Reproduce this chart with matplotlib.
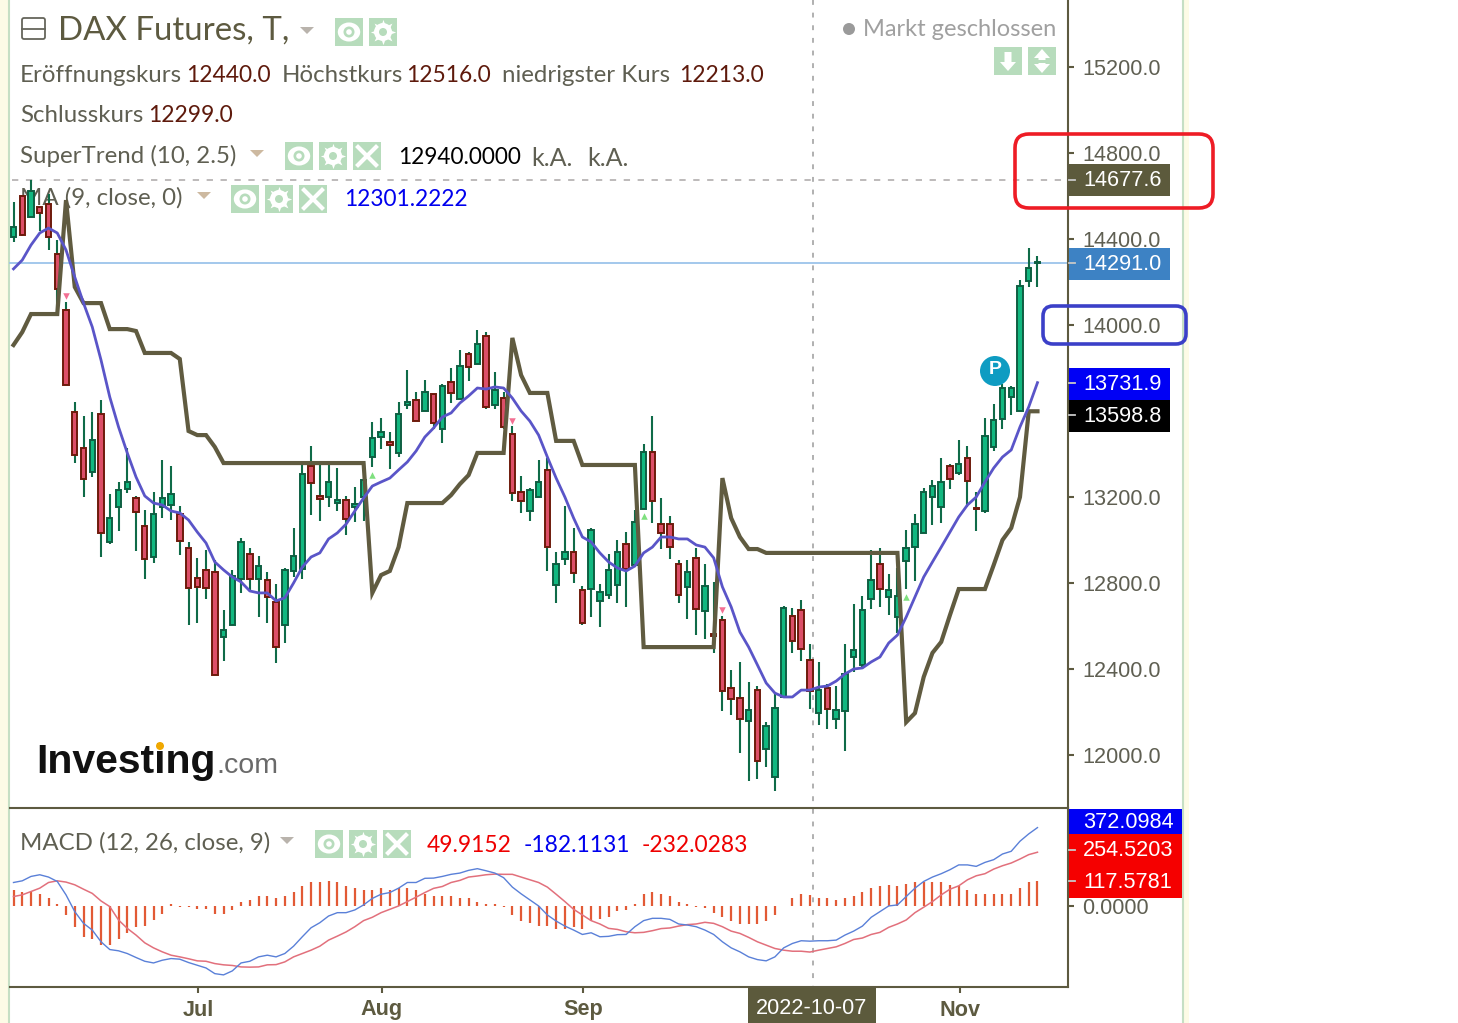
import matplotlib
matplotlib.use("Agg")
import matplotlib.pyplot as plt
from matplotlib.patches import Rectangle, FancyBboxPatch, Circle, Ellipse, Polygon

# ---------- data ----------
opens = [14409,14600,14502,14549,14563,14330,14070,13595,13428,13316,
 13586,12991,13154,13237,13195,13065,12921,13154,13163,13121,
 12963,12823,12861,12851,12549,12605,12819,12935,12819,12814,
 12712,12605,12856,12865,13344,13205,13200,13172,13186,13154,
 13200,13386,13479,13456,13405,13628,13651,13600,13679,13516,
 13735,13656,13865,13819,13949,13628,13660,13493,13223,13135,
 13200,13326,12791,12912,12944,12768,12772,12717,12744,12791,
 12981,12884,13144,13409,13074,13074,12888,12782,12917,12670,
 12563,12628,12312,12265,12158,12302,12028,11898,12270,12647,
 12675,12440,12195,12312,12167,12205,12456,12419,12726,12888,
 12735,12642,12902,12967,13033,13200,13154,13344,13312,13381,
 13149,13135,13433,13563,13665,13600,14205,14288]
highs = [14572,14600,14674,14549,14609,14395,14107,13642,13577,13595,
 13651,13214,13270,13428,13205,13140,13223,13372,13344,13158,
 12991,12917,12954,12907,12675,12861,13009,12963,12926,12851,
 12796,12870,13056,13349,13437,13363,13363,13335,13205,13247,
 13358,13549,13567,13502,13642,13791,13688,13744,13679,13726,
 13800,13884,13874,13977,13967,13781,13688,13530,13298,13242,
 13372,13381,12944,13158,13056,12786,13056,12796,12935,13000,
 13037,13140,13447,13577,13195,13112,12907,12907,12963,12888,
 12805,12647,12396,12433,12340,12321,12153,12293,12693,12684,
 12721,12516,12433,12330,12321,12516,12702,12740,12954,12963,
 12842,12870,13047,13121,13242,13279,13381,13353,13465,13437,
 13223,13567,13633,13726,13716,14209,14358,14321]
lows = [14386,14415,14502,14437,14349,14056,13721,13358,13200,13293,
 12921,12982,13042,13219,12949,12819,12893,13102,13093,12930,
 12605,12614,12726,12372,12437,12605,12754,12763,12642,12614,
 12428,12521,12828,12819,13116,13088,13154,13135,13023,13084,
 13088,13340,13423,13330,13386,13609,13553,13600,13516,13451,
 13637,13656,13740,13819,13609,13609,13516,13181,13126,13088,
 13200,12856,12707,12884,12800,12605,12642,12595,12726,12707,
 12689,12884,13144,13079,12958,12912,12707,12633,12558,12540,
 12475,12205,12186,12009,11879,11888,11944,11833,12270,12475,
 12437,12213,12140,12121,12121,12019,12386,12400,12679,12689,
 12651,12567,12772,12809,13033,13070,13079,13237,13302,13154,
 13042,13126,13414,13516,13581,13600,14177,14177]
closes = [14456,14419,14623,14521,14409,14167,13721,13395,13284,13465,
 13033,13102,13233,13270,13130,12912,13121,13195,13214,12995,
 12777,12782,12777,12372,12582,12833,12991,12819,12879,12735,
 12502,12861,12926,13307,13265,13191,13270,13186,13098,13168,
 13279,13474,13502,13442,13586,13642,13553,13688,13544,13716,
 13684,13809,13805,13912,13619,13698,13526,13219,13181,13233,
 13270,12967,12888,12944,12847,12614,13047,12758,12861,12944,
 12865,13084,13409,13181,13033,12967,12744,12851,12679,12786,
 12554,12299,12261,12167,12209,11972,12135,12219,12684,12530,
 12493,12299,12302,12214,12209,12377,12489,12675,12814,12772,
 12768,12740,12963,13074,13223,13251,13270,13284,13353,13274,
 13144,13484,13558,13707,13707,14181,14265,14291]
ma9 = [14261,14302,14372,14428,14451,14428,14349,14223,14102,13991,
 13837,13665,13526,13405,13293,13205,13172,13163,13135,13126,
 13093,13037,12986,12898,12861,12828,12805,12763,12754,12754,
 12717,12731,12800,12874,12921,12940,13005,13033,13074,13135,
 13195,13251,13270,13288,13326,13363,13414,13479,13521,13572,
 13591,13637,13670,13707,13702,13712,13707,13660,13600,13553,
 13488,13386,13288,13200,13102,13014,12991,12940,12898,12870,
 12856,12879,12940,12967,13014,13014,13005,13005,12977,12967,
 12917,12782,12689,12572,12502,12419,12335,12288,12270,12270,
 12302,12302,12316,12321,12344,12377,12400,12405,12433,12456,
 12521,12558,12642,12735,12828,12898,12967,13037,13107,13163,
 13200,13270,13335,13386,13419,13526,13619,13731.9]
supertrend = [13907,13967,14051,14051,14051,14051,14581,14177,14102,14102,
 14102,13981,13981,13981,13972,13870,13870,13870,13870,13842,
 13507,13488,13488,13433,13358,13358,13358,13358,13358,13358,
 13358,13358,13358,13358,13358,13358,13358,13358,13358,13358,
 13358,12754,12837,12856,12967,13172,13172,13172,13172,13172,
 13209,13260,13302,13405,13405,13405,13405,13940,13767,13684,
 13684,13684,13461,13461,13461,13349,13349,13349,13349,13349,
 13349,13349,12502,12502,12502,12502,12502,12502,12502,12502,
 12502,13288,13102,13014,12958,12958,12940,12940,12940,12940,
 12940,12940,12940,12940,12940,12940,12940,12940,12940,12940,
 12940,12940,12153,12195,12363,12475,12526,12651,12772,12772,
 12772,12772,12884,13000,13056,13200,13598.8,13598.8]
macd = [110,118,139,147,136,115,51,-29,-85,-117,
 -173,-210,-216,-229,-248,-266,-274,-261,-253,-256,
 -272,-285,-298,-325,-331,-312,-274,-266,-245,-237,
 -245,-229,-194,-149,-106,-82,-50,-34,-34,-21,
 3,34,54,62,83,110,110,130,131,139,
 149,155,168,176,166,155,133,88,56,27,
 -2,-45,-74,-98,-117,-138,-130,-149,-147,-139,
 -138,-101,-72,-61,-61,-66,-88,-93,-101,-117,
 -138,-173,-202,-221,-245,-258,-264,-245,-202,-181,
 -168,-170,-168,-168,-165,-141,-122,-98,-56,-29,
 -2,3,43,83,115,136,152,171,194,194,
 187,206,219,246,259,307,342,372.1]
signal = [43,51,67,83,110,118,112,99,78,58,
 22,-5,-69,-109,-141,-178,-202,-221,-237,-245,
 -254,-264,-266,-277,-283,-286,-293,-294,-293,-283,
 -282,-269,-245,-229,-213,-194,-165,-146,-126,-101,
 -72,-56,-34,-18,-2,19,40,62,82,91,
 110,120,136,141,147,150,149,149,136,123,
 110,88,54,19,-18,-45,-72,-88,-109,-114,
 -125,-130,-128,-120,-110,-107,-98,-91,-88,-80,
 -85,-101,-122,-133,-152,-173,-189,-205,-213,-218,
 -218,-222,-213,-205,-197,-181,-162,-155,-138,-128,
 -104,-88,-69,-34,-8,19,51,78,94,123,
 142,152,174,190,203,222,243,254.5]
hist = [74,66,66,55,36,6,-47,-103,-150,-158,
 -188,-188,-158,-133,-103,-96,-67,-38,5,-5,
 -5,-16,-16,-38,-38,-19,19,28,47,47,
 38,47,64,91,110,110,119,110,91,82,
 74,74,82,74,82,82,74,55,47,47,
 47,36,36,19,6,5,-5,-47,-74,-85,
 -99,-100,-111,-111,-102,-111,-75,-64,-55,-28,
 -20,6,55,63,55,45,17,5,-5,-12,
 -37,-56,-75,-86,-86,-86,-75,-47,0,36,
 53,50,36,36,26,36,45,63,82,91,
 100,92,102,110,110,110,110,100,91,74,
 55,55,55,55,55,82,110,117.6]
sell_idx = [6, 57, 81]
sell_price = [14135, 13553, 12675]
buy_idx = [41, 72, 102]
buy_price = [13302, 13112, 12735]
price_ticks = [12000,12400,12800,13200,13600,14000,14400,14800,15200]
month_pos = [21.1, 42.1, 65.1, 108.2]
month_labels = ["Jul", "Aug", "Sep", "Nov"]

# ---------- layout ----------
W, H = 1458, 1023
X0, DX = 13.5, 8.752
OLIVE = "#5d5a40"
GRAY = "#5f5f52"
DRED = "#5e1a0c"
UI = "Lato"
NUM = "Liberation Sans"

fig = plt.figure(figsize=(W/100, H/100), dpi=100, facecolor="white")

def axpos(l, t, r, b):
    return [l/W, 1-b/H, (r-l)/W, (b-t)/H]

def overlay(z):
    a = fig.add_axes([0, 0, 1, 1], zorder=z)
    a.set_xlim(0, W); a.set_ylim(H, 0); a.axis("off")
    a.patch.set_alpha(0)
    return a

back = overlay(0)
top = overlay(5)

ax = fig.add_axes(axpos(10, 0, 1068, 808), zorder=2)
ax2 = fig.add_axes(axpos(10, 808, 1068, 987), zorder=2, sharex=ax)
for a in (ax, ax2):
    a.patch.set_alpha(0)
    for s in ("left", "top"):
        a.spines[s].set_visible(False)
    for s in ("right", "bottom"):
        a.spines[s].set_color(OLIVE); a.spines[s].set_linewidth(1.5)
    a.yaxis.tick_right()
    a.tick_params(axis="y", length=4.5, width=1.5, color=OLIVE, pad=6,
                  labelsize=15.6, labelcolor=GRAY)

ax.set_xlim((10-X0)/DX, (1068-X0)/DX)
ax.set_ylim(15200-(808-67)*4.651, 15200+67*4.651)
ax2.set_ylim(-81*4.8, 97*4.8)

idx = list(range(len(opens)))

# candles
ax.vlines(idx, lows, highs, color="#0f6b48", lw=1.5, zorder=3)
for i in idx:
    o, c = opens[i], closes[i]
    up = c >= o
    ax.bar(i, max(abs(c-o), 1.0), bottom=min(o, c), width=0.62,
           facecolor="#12b880" if up else "#dc4f68",
           edgecolor="#0e5f42" if up else "#6e1a0b", linewidth=1.4, zorder=4)

ax.plot(idx, supertrend, color="#605b40", lw=3.0, zorder=5, solid_joinstyle="miter")
ax.plot(idx, ma9, color="#5a55c8", lw=2.0, zorder=6)
ax.scatter(sell_idx, sell_price, marker="v", s=22, color="#f36f93", zorder=6, linewidths=0)
ax.scatter(buy_idx, buy_price, marker="^", s=22, color="#7fe07f", zorder=6, linewidths=0)

ax.set_yticks(price_ticks)
# the 13600.0 label sits under the black price tag in the reference, so it stays empty
ax.set_yticklabels(["" if v == 13600 else f"{v:.1f}" for v in price_ticks], fontfamily=NUM)
ax.tick_params(axis="x", length=0, labelbottom=False)

# MACD
ax2.vlines(idx, 0, hist, color="#e25a35", lw=1.6, zorder=3)
ax2.plot(idx, signal, color="#e2707c", lw=1.1, zorder=4)
ax2.plot(idx, macd, color="#5a80d8", lw=1.0, zorder=5)
ax2.set_yticks([0, 117.58, 254.52, 372.1])
ax2.set_yticklabels(["0.0000", "", "", ""], fontfamily=NUM)
ax2.set_xticks(month_pos)
ax2.set_xticklabels(month_labels, fontfamily=NUM, fontweight="bold", fontsize=15.6, color=OLIVE)
ax2.tick_params(axis="x", length=4.5, width=1.5, color=OLIVE, pad=4.5)

# ---------- background decoration and text (behind the candles) ----------
back.add_patch(Rectangle((0, 0), 8, H, color="#fdfbe6", lw=0))
back.plot([9, 9], [0, H], color="#c6dfc4", lw=1.5)
back.add_patch(Rectangle((1184, 0), 5, H, color="#fdfbe6", lw=0))
back.plot([1183, 1183], [0, H], color="#c6dfc4", lw=1.5)
back.plot([813, 813], [0, 987], color="#b0b0b0", lw=1.4, dashes=(2.5, 4))
back.plot([12, 1066], [180, 180], color="#b8b4b4", lw=1.3, dashes=(3.5, 4.2))
back.plot([10, 1068], [263, 263], color="#9cc4ea", lw=1.3)

def T(a, x, y, s, color=GRAY, size=17.3, fam=UI, **kw):
    a.text(x, y, s, color=color, fontsize=size, family=fam, va="center", ha=kw.pop("ha", "left"), **kw)

def icon_box(a, x, y, w=28, h=28):
    a.add_patch(Rectangle((x, y), w, h, color="#b7dcbc", lw=0))

def eye(a, x, y, w=28, h=28):
    icon_box(a, x, y, w, h)
    cx, cy = x+w/2, y+h/2
    a.add_patch(Ellipse((cx, cy), w*0.8, h*0.68, color="white", lw=0))
    a.add_patch(Circle((cx, cy), 5.5, color="#b7dcbc", lw=0))
    a.add_patch(Circle((cx, cy), 2.8, color="white", lw=0))

def gear(a, x, y, w=28, h=28):
    icon_box(a, x, y, w, h)
    cx, cy = x+w/2, y+h/2
    a.add_patch(Circle((cx, cy), 9, color="white", lw=0))
    a.scatter([cx], [cy], marker=(8, 1, 0), s=330, color="white", linewidths=0, zorder=3)
    a.add_patch(Circle((cx, cy), 4, color="#b7dcbc", lw=0, zorder=4))

def cross(a, x, y, w=28, h=28):
    icon_box(a, x, y, w, h)
    a.plot([x+5, x+w-5], [y+5, y+h-5], color="white", lw=3)
    a.plot([x+5, x+w-5], [y+h-5, y+5], color="white", lw=3)

def tri(a, x, y, color="#b9b3ac"):
    a.add_patch(Polygon([(x-7, y-3), (x+7, y-3), (x, y+4)], color=color, lw=0))

def arrow_shape(a, cx, y_tip, y_tail):
    d = 1 if y_tail > y_tip else -1
    a.add_patch(Polygon([(cx, y_tip), (cx+8, y_tip+d*9), (cx+3.5, y_tip+d*9), (cx+3.5, y_tail),
                         (cx-3.5, y_tail), (cx-3.5, y_tip+d*9), (cx-8, y_tip+d*9)],
                        color="white", lw=0))

# header row
back.add_patch(FancyBboxPatch((22, 18), 23, 21, boxstyle="round,pad=0,rounding_size=2",
                              fc="none", ec="#66665c", lw=1.3))
back.plot([22, 45], [29, 29], color="#66665c", lw=1.3)
T(back, 58, 31, "DAX Futures, T,", OLIVE, 23.8)
tri(back, 307, 30)
eye(back, 335, 18); gear(back, 369, 18)
back.add_patch(Circle((849, 29), 6, color="#9a9a9a", lw=0))
T(back, 863, 29, "Markt geschlossen", "#a0a0a0", 17)
icon_box(back, 994, 47); icon_box(back, 1028, 47)
arrow_shape(back, 1008, 71, 52)
arrow_shape(back, 1042, 49, 60)
arrow_shape(back, 1042, 73, 63)

for x, s, c, sz in [(20, "Eröffnungskurs", GRAY, 17.3), (186, "12440.0", DRED, 16.4),
                    (282, "Höchstkurs", GRAY, 17.3), (406, "12516.0", DRED, 16.4),
                    (502, "niedrigster Kurs", GRAY, 17.3), (679, "12213.0", DRED, 16.4)]:
    T(back, x, 75, s, c, sz)
T(back, 20, 116, "Schlusskurs", GRAY); T(back, 148, 116, "12299.0", DRED, 16.4)
T(back, 20, 156, "SuperTrend (10, 2.5)", GRAY)
tri(back, 257, 153, "#cdb9a0")
eye(back, 285, 142); gear(back, 319, 142); cross(back, 353, 142)
T(back, 398, 158, "12940.0000", "black", 16.3)
T(back, 531, 158, "k.A.", GRAY, 18); T(back, 587, 158, "k.A.", GRAY, 18)
T(back, 20, 198, "MA (9, close, 0)", GRAY)
tri(back, 204, 195, "#cdb9a0")
eye(back, 231, 185); gear(back, 265, 185); cross(back, 299, 185)
T(back, 344, 200, "12301.2222", "#0000ee", 16.3)
T(back, 20, 843, "MACD (12, 26, close, 9)", GRAY)
tri(back, 287, 840)
eye(back, 315, 830); gear(back, 349, 830); cross(back, 383, 830)
T(back, 427, 845, "49.9152", "#ee0000", 16.4)
T(back, 524, 845, "-182.1131", "#0000ee", 16.4)
T(back, 642, 845, "-232.0283", "#ee0000", 16.4)

# logo
T(back, 36, 762, "Investing", "#111111", 29.5, NUM, fontweight="bold")
T(back, 216, 766, ".com", "#6a6a6a", 20.5, NUM)
back.add_patch(Circle((160, 746), 4, color="#f0a800", lw=0, zorder=4))

# ---------- top layer: price tags, rings ----------
def tag(y0, y1, s, color, right=1170, left=1069, tx=1083, size=15.6, tick=None):
    top.add_patch(Rectangle((left, y0), right-left, y1-y0, color=color, lw=0))
    T(top, tx, (y0+y1)/2+1, s, "white", size, NUM)
    if tick is not None:
        top.plot([left, left+6], [tick, tick], color="#c8c8c8", lw=1.3)

tag(164, 196, "14677.6", "#5c5a3c", tick=180)
tag(248, 280, "14291.0", "#3d82c4", tick=263)
tag(368, 400, "13731.9", "#0000f5", tick=383)
tag(400, 432, "13598.8", "#000000", tick=415)
tag(809, 834, "372.0984", "#0000f5", right=1182)
tag(834, 866, "254.5203", "#f50000", right=1182, tick=850)
tag(866, 898, "117.5781", "#f50000", right=1182, tick=881)
top.add_patch(Rectangle((748, 988), 128, 35, color="#5c5a3c", lw=0))
T(top, 812, 1008, "2022-10-07", "white", 15.6, NUM, ha="center")

top.add_patch(FancyBboxPatch((1015, 134), 198, 74, boxstyle="round,pad=0,rounding_size=14",
                             fc="none", ec="#ee1c25", lw=2.6))
top.add_patch(FancyBboxPatch((1043, 306), 143, 38, boxstyle="round,pad=0,rounding_size=10",
                             fc="none", ec="#3b40c8", lw=2.6))
top.add_patch(Circle((995, 371), 15, color="#0e9cc2", lw=0))
T(top, 995, 370, "P", "white", 14, NUM, ha="center", fontweight="bold")

fig.savefig("out.png", dpi=100, facecolor="white")
